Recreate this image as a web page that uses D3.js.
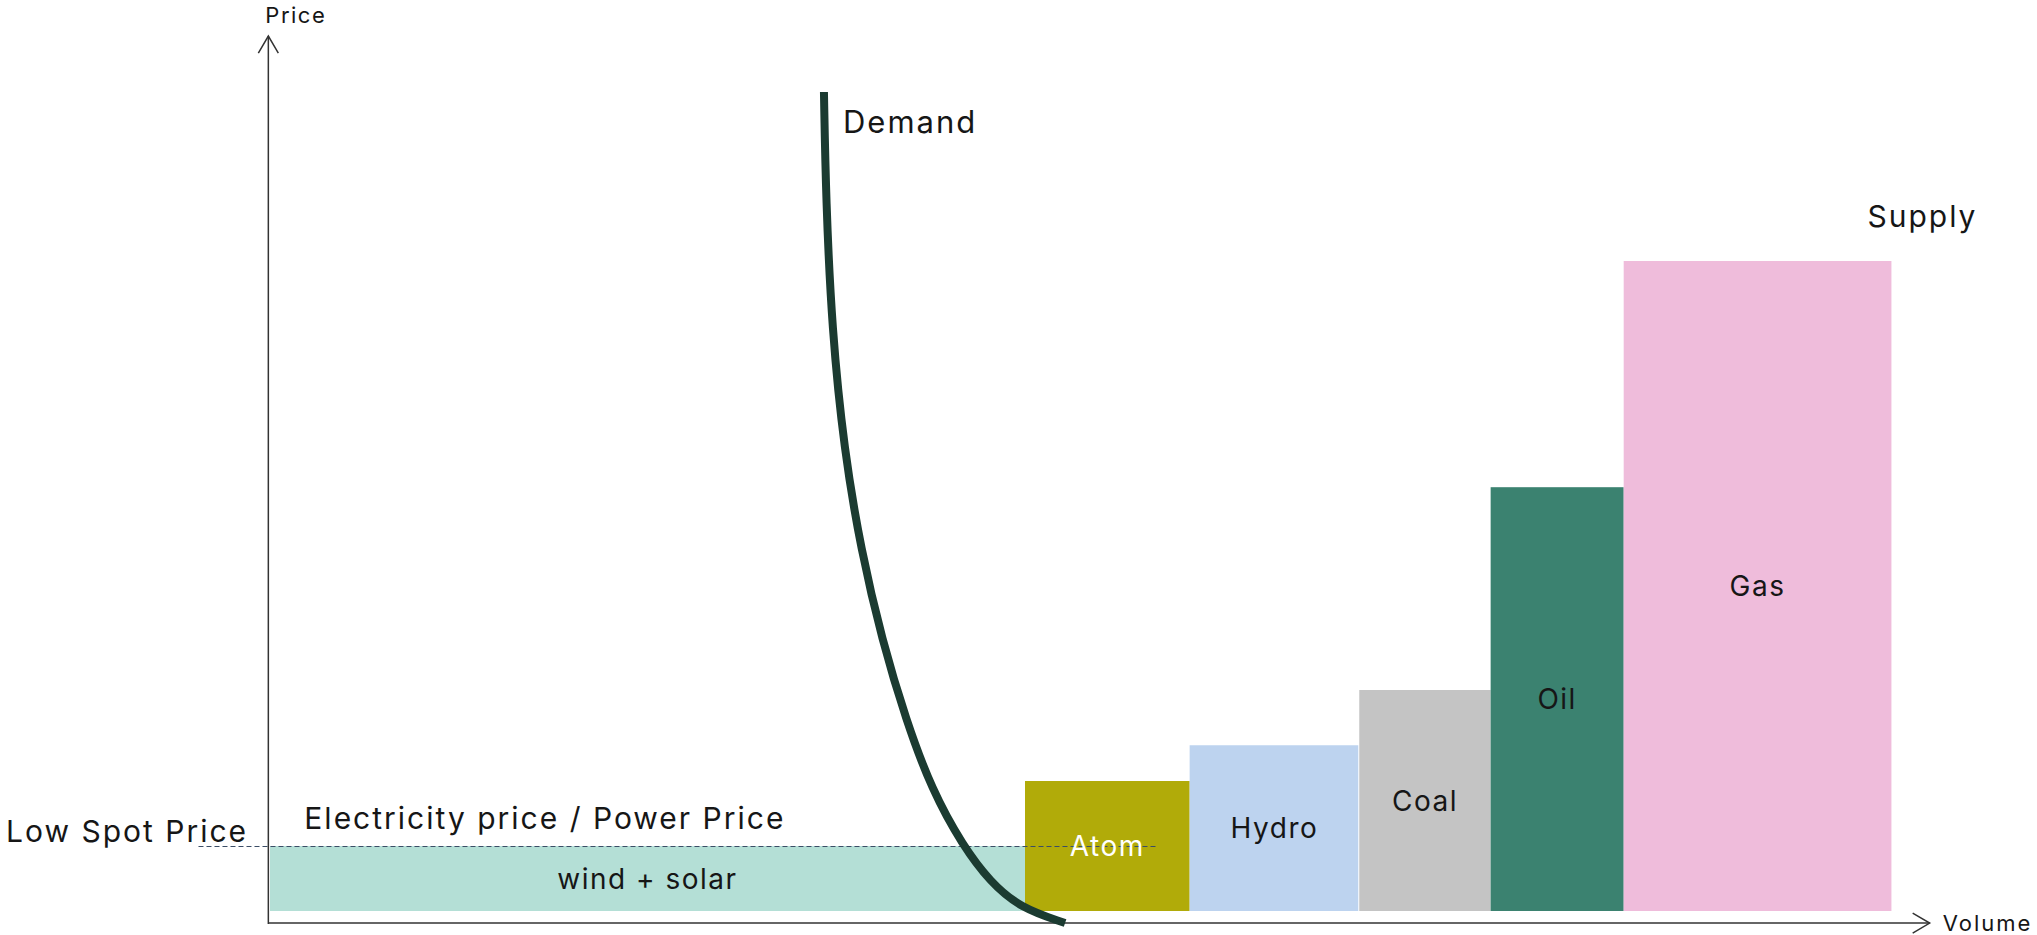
<!DOCTYPE html>
<html>
<head>
<meta charset="utf-8">
<script src="https://cdn.jsdelivr.net/npm/d3@7"></script>
<style>
  html, body { margin: 0; padding: 0; background: #fff; }
  svg text { font-family: Inter, "Noto Sans", sans-serif; fill: #161616; }
</style>
</head>
<body>
<div id="chart"></div>
<script>
// merit order: each plant type gets a width (volume) and a height (price)
const categories = ["wind + solar", "Atom", "Hydro", "Coal", "Oil", "Gas"];
const volumes = [45.4, 9.9, 10.2, 7.9, 8.0, 16.1];
const prices = [10, 20, 25.5, 34, 65.2, 100];
const barColors = ["#b4dfd6", "#b1ab09", "#bdd3ef", "#c4c4c4", "#3b8270", "#efbcdb"];

// demand curve (volume, price)
const demandVolume = [33.31, 33.43, 33.79, 34.52, 35.54, 36.8, 38.24, 39.8, 41.67, 43.3, 45.1, 47.81];
const demandPrice = [126, 109.4, 89.4, 70.9, 55.5, 41.7, 29.4, 18.6, 10, 4.5, 0.5, -1.85];

const lowSpotPrice = 10;
const spotLineFrom = -4.3;
const spotLineTo = 53.3;

const width = 2037;
const height = 935;

let x = d3.scaleLinear().domain([0, 100]).range([270, 1933]);
let y = d3.scaleLinear().domain([0, 100]).range([911, 261]);

let color = d3.scaleOrdinal().domain(categories).range(barColors);

// stack the bars left to right
let edges = d3.cumsum(volumes);
let bars = categories.map((c, i) => ({
    name: c,
    x0: i === 0 ? 0 : edges[i - 1],
    x1: edges[i],
    price: prices[i]
}));

let svg = d3.select("#chart")
  .append("svg")
    .attr("width", width)
    .attr("height", height);

svg.selectAll("rect.bar")
  .data(bars)
  .enter()
  .append("rect")
    .attr("class", "bar")
    .attr("x", d => x(d.x0))
    .attr("y", d => y(d.price))
    .attr("width", d => x(d.x1) - x(d.x0) - (d.name === "Hydro" ? 1 : 0))
    .attr("height", d => y(0) - y(d.price))
    .attr("fill", d => color(d.name));

// low spot price line
svg.append("line")
    .attr("x1", x(spotLineFrom))
    .attr("x2", x(spotLineTo))
    .attr("y1", y(lowSpotPrice) + 0.5)
    .attr("y2", y(lowSpotPrice) + 0.5)
    .attr("stroke", "#3b4d66")
    .attr("stroke-width", 1)
    .attr("stroke-dasharray", "5,3");

svg.selectAll("text.barlabel")
  .data(bars)
  .enter()
  .append("text")
    .attr("class", "barlabel")
    .attr("x", d => (x(d.x0) + x(d.x1)) / 2)
    .attr("y", d => (y(0) + y(d.price)) / 2)
    .attr("dy", "0.36em")
    .attr("text-anchor", "middle")
    .style("font-size", "28px")
    .style("letter-spacing", "1.5px")
    .style("fill", d => d.name === "Atom" ? "#ffffff" : "#161616")
    .text(d => d.name);

// axes with open arrow heads
let axisY = y(-1.85);
let axisTop = y(134.6);
let axisX = x(-0.1);
let axisEnd = x(99.8);

let axes = svg.append("g")
    .attr("fill", "none")
    .attr("stroke", "#333")
    .attr("stroke-width", 1.5);

axes.append("line").attr("x1", axisX).attr("x2", axisX).attr("y1", axisTop).attr("y2", axisY + 1);
axes.append("line").attr("x1", axisX).attr("x2", axisEnd).attr("y1", axisY).attr("y2", axisY);
axes.append("path").attr("d", `M${axisX - 10},${axisTop + 17}L${axisX},${axisTop}L${axisX + 10},${axisTop + 17}`);
axes.append("path").attr("d", `M${axisEnd - 17},${axisY - 10}L${axisEnd},${axisY}L${axisEnd - 17},${axisY + 10}`);

svg.append("text")
    .attr("x", axisX - 3)
    .attr("y", 23)
    .style("font-size", "22px")
    .style("letter-spacing", "1.5px")
    .text("Price");

svg.append("text")
    .attr("x", axisEnd + 13)
    .attr("y", axisY + 8)
    .style("font-size", "22px")
    .style("letter-spacing", "2px")
    .text("Volume");

// demand curve, smoothed through the read points
let line = d3.line()
    .x(d => x(d[0]))
    .y(d => y(d[1]))
    .curve(d3.curveBasis);

svg.append("path")
    .datum(d3.zip(demandVolume, demandPrice))
    .attr("d", line)
    .attr("fill", "none")
    .attr("stroke", "#1b3b31")
    .attr("stroke-width", 8);

svg.append("text")
    .attr("x", x(demandVolume[0]) + 19)
    .attr("y", 133)
    .style("font-size", "31px")
    .style("letter-spacing", "2px")
    .text("Demand");

svg.append("text")
    .attr("x", x(edges[edges.length - 1]) - 24)
    .attr("y", 227)
    .style("font-size", "30px")
    .style("letter-spacing", "2px")
    .text("Supply");

svg.append("text")
    .attr("x", 6)
    .attr("y", y(lowSpotPrice) - 4)
    .style("font-size", "30px")
    .style("letter-spacing", "2px")
    .text("Low Spot Price");

svg.append("text")
    .attr("x", axisX + 36)
    .attr("y", y(lowSpotPrice) - 17)
    .style("font-size", "30px")
    .style("letter-spacing", "2px")
    .text("Electricity price / Power Price");
</script>
</body>
</html>
